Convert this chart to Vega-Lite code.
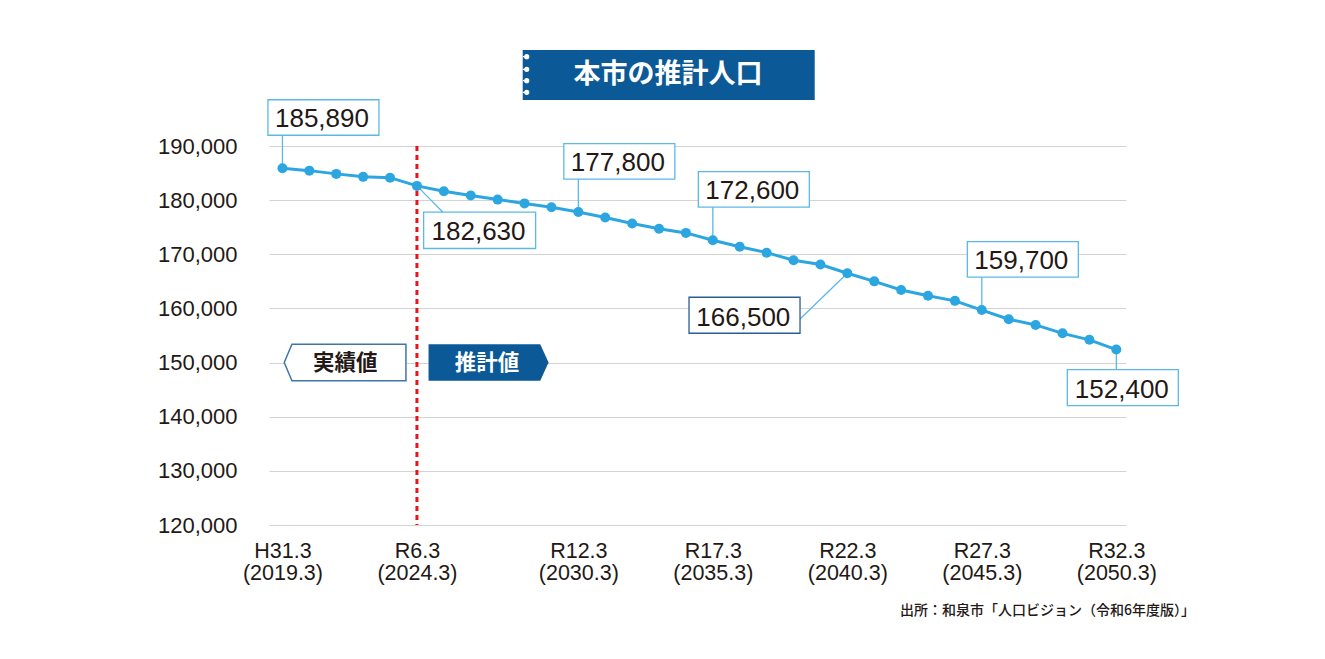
{
  "$schema": "https://vega.github.io/schema/vega-lite/v6.json",
  "width": 857,
  "height": 379,
  "autosize": "none",
  "padding": {"left": 269, "top": 146, "right": 199, "bottom": 134},
  "background": "white",
  "config": {"view": {"stroke": null}, "font": "Liberation Sans"},
  "datasets": {
    "pop": [
      {"year": 2019, "pop": 185890},
      {"year": 2020, "pop": 185450},
      {"year": 2021, "pop": 184850},
      {"year": 2022, "pop": 184300},
      {"year": 2023, "pop": 184150},
      {"year": 2024, "pop": 182630},
      {"year": 2025, "pop": 181650},
      {"year": 2026, "pop": 180850},
      {"year": 2027, "pop": 180100},
      {"year": 2028, "pop": 179400},
      {"year": 2029, "pop": 178700},
      {"year": 2030, "pop": 177800},
      {"year": 2031, "pop": 176800},
      {"year": 2032, "pop": 175700},
      {"year": 2033, "pop": 174700},
      {"year": 2034, "pop": 173950},
      {"year": 2035, "pop": 172600},
      {"year": 2036, "pop": 171400},
      {"year": 2037, "pop": 170300},
      {"year": 2038, "pop": 168900},
      {"year": 2039, "pop": 168100},
      {"year": 2040, "pop": 166500},
      {"year": 2041, "pop": 165000},
      {"year": 2042, "pop": 163400},
      {"year": 2043, "pop": 162350},
      {"year": 2044, "pop": 161400},
      {"year": 2045, "pop": 159700},
      {"year": 2046, "pop": 158000},
      {"year": 2047, "pop": 156950},
      {"year": 2048, "pop": 155400},
      {"year": 2049, "pop": 154200},
      {"year": 2050, "pop": 152400}
    ]
  },
  "title": {
    "text": "出所：和泉市「人口ビジョン（令和6年度版）」",
    "orient": "bottom",
    "anchor": "end",
    "frame": "group",
    "dx": 69,
    "offset": 20,
    "font": "Noto Sans CJK JP",
    "fontSize": 14,
    "fontWeight": 500,
    "color": "#231815"
  },
  "layer": [
    {
      "data": {"values": [{}]},
      "mark": {"type": "rule", "color": "#e8141c", "strokeWidth": 3, "strokeDash": [5, 4]},
      "encoding": {"x": {"datum": 2024, "type": "quantitative"}}
    },
    {
      "data": {"name": "pop"},
      "mark": {"type": "line", "color": "#2ca6e0", "strokeWidth": 3},
      "encoding": {
        "x": {
          "field": "year",
          "type": "quantitative",
          "scale": {"domain": [2018.5, 2050.36], "nice": false, "zero": false},
          "axis": {
            "title": null,
            "grid": false,
            "domain": false,
            "ticks": false,
            "values": [2019, 2024, 2030, 2035, 2040, 2045, 2050],
            "labelExpr": "datum.value == 2019 ? ['H31.3', '(2019.3)'] : ['R' + (datum.value - 2018) + '.3', '(' + datum.value + '.3)']",
            "labelFont": "Liberation Sans",
            "labelFontSize": 21.5,
            "labelColor": "#231815",
            "labelPadding": 15,
            "labelLineHeight": 22.5,
            "labelBaseline": "top"
          }
        },
        "y": {
          "field": "pop",
          "type": "quantitative",
          "scale": {"domain": [120000, 190000], "nice": false, "zero": false},
          "axis": {
            "title": null,
            "grid": true,
            "gridColor": "#d3d3d3",
            "gridWidth": 1,
            "domain": false,
            "ticks": false,
            "values": [120000, 130000, 140000, 150000, 160000, 170000, 180000, 190000],
            "format": ",d",
            "labelFont": "Liberation Sans",
            "labelFontSize": 22,
            "labelColor": "#231815",
            "labelPadding": 32
          }
        }
      }
    },
    {
      "data": {"name": "pop"},
      "transform": [{"filter": {"field": "year", "oneOf": [2019, 2030, 2035, 2045]}}],
      "mark": {"type": "point", "shape": "M0,0V-33M-14.5,-33V-68.5H96.5V-33Z", "size": 4, "filled": true, "fill": "white", "stroke": "#5cb9e6", "strokeWidth": 1.3, "opacity": 1},
      "encoding": {"x": {"field": "year", "type": "quantitative"}, "y": {"field": "pop", "type": "quantitative"}}
    },
    {
      "data": {"name": "pop"},
      "transform": [{"filter": {"field": "year", "oneOf": [2019, 2030, 2035, 2045]}}],
      "mark": {"type": "text", "dx": 39.5, "dy": -41.5, "align": "center", "baseline": "alphabetic", "fontSize": 26, "font": "Liberation Sans", "color": "#231815"},
      "encoding": {"x": {"field": "year", "type": "quantitative"}, "y": {"field": "pop", "type": "quantitative"}, "text": {"field": "pop", "type": "quantitative", "format": ",d"}}
    },
    {
      "data": {"name": "pop"},
      "transform": [{"filter": {"field": "year", "equal": 2024}}],
      "mark": {"type": "point", "shape": "M0,0L26,26.3M6.7,26.3H118.7V62.6H6.7Z", "size": 4, "filled": true, "fill": "white", "stroke": "#5cb9e6", "strokeWidth": 1.3, "opacity": 1},
      "encoding": {"x": {"field": "year", "type": "quantitative"}, "y": {"field": "pop", "type": "quantitative"}}
    },
    {
      "data": {"name": "pop"},
      "transform": [{"filter": {"field": "year", "equal": 2024}}],
      "mark": {"type": "text", "dx": 61.6, "dy": 54.3, "align": "center", "baseline": "alphabetic", "fontSize": 26, "font": "Liberation Sans", "color": "#231815"},
      "encoding": {"x": {"field": "year", "type": "quantitative"}, "y": {"field": "pop", "type": "quantitative"}, "text": {"field": "pop", "type": "quantitative", "format": ",d"}}
    },
    {
      "data": {"name": "pop"},
      "transform": [{"filter": {"field": "year", "equal": 2040}}],
      "mark": {"type": "point", "shape": "M0,0L-47.3,45.7", "size": 4, "filled": false, "fill": null, "stroke": "#5cb9e6", "strokeWidth": 1.3, "opacity": 1},
      "encoding": {"x": {"field": "year", "type": "quantitative"}, "y": {"field": "pop", "type": "quantitative"}}
    },
    {
      "data": {"name": "pop"},
      "transform": [{"filter": {"field": "year", "equal": 2040}}],
      "mark": {"type": "point", "shape": "M-158.3,24H-47.3V60H-158.3Z", "size": 4, "filled": true, "fill": "white", "stroke": "#2a5d92", "strokeWidth": 1.3, "opacity": 1},
      "encoding": {"x": {"field": "year", "type": "quantitative"}, "y": {"field": "pop", "type": "quantitative"}}
    },
    {
      "data": {"name": "pop"},
      "transform": [{"filter": {"field": "year", "equal": 2040}}],
      "mark": {"type": "text", "dx": -104, "dy": 52.7, "align": "center", "baseline": "alphabetic", "fontSize": 26, "font": "Liberation Sans", "color": "#231815"},
      "encoding": {"x": {"field": "year", "type": "quantitative"}, "y": {"field": "pop", "type": "quantitative"}, "text": {"field": "pop", "type": "quantitative", "format": ",d"}}
    },
    {
      "data": {"name": "pop"},
      "transform": [{"filter": {"field": "year", "equal": 2050}}],
      "mark": {"type": "point", "shape": "M0,0V20M-49,20H62V56H-49Z", "size": 4, "filled": true, "fill": "white", "stroke": "#5cb9e6", "strokeWidth": 1.3, "opacity": 1},
      "encoding": {"x": {"field": "year", "type": "quantitative"}, "y": {"field": "pop", "type": "quantitative"}}
    },
    {
      "data": {"name": "pop"},
      "transform": [{"filter": {"field": "year", "equal": 2050}}],
      "mark": {"type": "text", "dx": 5.5, "dy": 48.4, "align": "center", "baseline": "alphabetic", "fontSize": 26, "font": "Liberation Sans", "color": "#231815"},
      "encoding": {"x": {"field": "year", "type": "quantitative"}, "y": {"field": "pop", "type": "quantitative"}, "text": {"field": "pop", "type": "quantitative", "format": ",d"}}
    },
    {
      "data": {"name": "pop"},
      "mark": {"type": "circle", "color": "#2ca6e0", "size": 100, "opacity": 1},
      "encoding": {"x": {"field": "year", "type": "quantitative"}, "y": {"field": "pop", "type": "quantitative"}}
    },
    {
      "data": {"values": [{"tag": "実績値"}]},
      "mark": {"type": "point", "shape": "M-132.7,0L-125,-18.3H-11V18.3H-125Z", "size": 4, "filled": true, "fill": "white", "stroke": "#3d76aa", "strokeWidth": 1.5, "opacity": 1},
      "encoding": {"x": {"datum": 2024, "type": "quantitative"}, "y": {"datum": 150000, "type": "quantitative"}}
    },
    {
      "data": {"values": [{"tag": "実績値"}]},
      "mark": {"type": "text", "dx": -71.7, "dy": 1.5, "align": "center", "baseline": "middle", "fontSize": 21.5, "fontWeight": "bold", "font": "Noto Sans CJK JP", "color": "#231815"},
      "encoding": {"x": {"datum": 2024, "type": "quantitative"}, "y": {"datum": 150000, "type": "quantitative"}, "text": {"field": "tag"}}
    },
    {
      "data": {"values": [{"tag": "推計値"}]},
      "mark": {"type": "point", "shape": "M11.6,-18.3H123.3L131.6,0L123.3,18.3H11.6Z", "size": 4, "filled": true, "fill": "#0b5996", "strokeWidth": 0, "opacity": 1},
      "encoding": {"x": {"datum": 2024, "type": "quantitative"}, "y": {"datum": 150000, "type": "quantitative"}}
    },
    {
      "data": {"values": [{"tag": "推計値"}]},
      "mark": {"type": "text", "dx": 70, "dy": 1.5, "align": "center", "baseline": "middle", "fontSize": 21.5, "fontWeight": "bold", "font": "Noto Sans CJK JP", "color": "white"},
      "encoding": {"x": {"datum": 2024, "type": "quantitative"}, "y": {"datum": 150000, "type": "quantitative"}, "text": {"field": "tag"}}
    },
    {
      "data": {"values": [{"heading": "本市の推計人口"}]},
      "mark": {"type": "point", "shape": "M-146,-25H146V25H-146Z", "size": 4, "filled": true, "fill": "#0b5996", "strokeWidth": 0, "opacity": 1},
      "encoding": {"x": {"datum": 2033.36, "type": "quantitative"}, "y": {"datum": 203113, "type": "quantitative"}}
    },
    {
      "data": {"values": [{"heading": "本市の推計人口"}]},
      "mark": {"type": "point", "shape": "M-146,-18.3H-142M-144,-18.3a2,2 0 1,0 4,0a2,2 0 1,0 -4,0M-146,-5.7H-142M-144,-5.7a2,2 0 1,0 4,0a2,2 0 1,0 -4,0M-146,5.7H-142M-144,5.7a2,2 0 1,0 4,0a2,2 0 1,0 -4,0M-146,17.3H-142M-144,17.3a2,2 0 1,0 4,0a2,2 0 1,0 -4,0", "size": 4, "filled": true, "fill": "white", "stroke": "white", "strokeWidth": 1.2, "opacity": 1},
      "encoding": {"x": {"datum": 2033.36, "type": "quantitative"}, "y": {"datum": 203113, "type": "quantitative"}}
    },
    {
      "data": {"values": [{"heading": "本市の推計人口"}]},
      "mark": {"type": "text", "dx": -0.8, "dy": 0, "align": "center", "baseline": "middle", "fontSize": 27, "fontWeight": "bold", "font": "Noto Sans CJK JP", "color": "white"},
      "encoding": {"x": {"datum": 2033.36, "type": "quantitative"}, "y": {"datum": 203113, "type": "quantitative"}, "text": {"field": "heading"}}
    }
  ]
}
